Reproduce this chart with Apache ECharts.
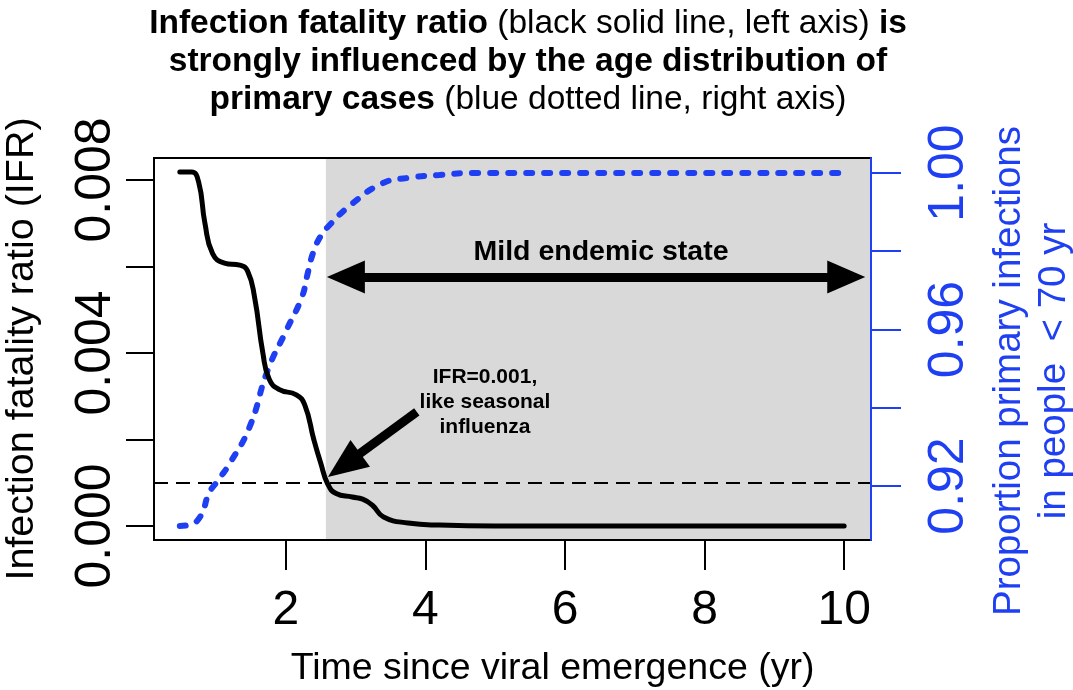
<!DOCTYPE html>
<html>
<head>
<meta charset="utf-8">
<script src="https://cdn.jsdelivr.net/npm/echarts@6/dist/echarts.min.js"></script>
<style>
  html, body { margin: 0; padding: 0; background: #fff; }
  #chart { width: 1073px; height: 690px; }
</style>
</head>
<body>
<div id="chart"></div>
<script>
// IFR curve (black, left axis)
var ifrTime = [0.48, 0.65, 0.75, 0.84, 0.95, 1.12, 1.34, 1.45, 1.55, 1.67, 1.76, 1.9, 2.15, 2.27, 2.40, 2.50, 2.60, 2.72, 2.95, 3.10, 3.24, 3.40, 3.75, 4.2, 5.0, 10.0];
var ifrValues = [0.008185, 0.008185, 0.00795, 0.00700, 0.00630, 0.00608, 0.00603, 0.00590, 0.00530, 0.00400, 0.00340, 0.00316, 0.00303, 0.00280, 0.00200, 0.00145, 0.00097, 0.00075, 0.00067, 0.00062, 0.00048, 0.00021, 0.00007, 0.00002, 0.0, 0.0];

// proportion of primary infections in people < 70 yr (blue, right axis)
var propTime = [0.48, 0.60, 0.77, 0.90, 1.03, 1.20, 1.48, 1.74, 2.01, 2.23, 2.30, 2.39, 2.49, 2.60, 2.96, 3.39, 3.73, 4.2, 4.7, 10.0];
var propValues = [0.9098, 0.9100, 0.9121, 0.9182, 0.9215, 0.9259, 0.9351, 0.9496, 0.9599, 0.9683, 0.9734, 0.9796, 0.9836, 0.9862, 0.9923, 0.9974, 0.9987, 0.9995, 1.0, 1.0];

// ticks and labels
var xTicks = [2, 4, 6, 8, 10];
var leftTicks = [0, 0.002, 0.004, 0.006, 0.008];
var leftLabels = [0, 0.004, 0.008];
var rightTicks = [0.92, 0.94, 0.96, 0.98, 1.0];
var rightLabels = [0.92, 0.96, 1.0];

// axis extents (R style 4% padding)
var xMin = 0.11, xMax = 10.385;
var ifrMin = -0.000324, ifrMax = 0.008509;
var propMin = 0.9062, propMax = 1.00383;

// annotations
var endemicStart = 2.573;
var seasonalIFR = 0.001;

var BLUE = '#1f3ff2';
var FONT = '"Liberation Sans", Arial, Helvetica, sans-serif';

var ifrData = ifrTime.map(function (t, i) { return [t, ifrValues[i]]; });
var propData = propTime.map(function (t, i) { return [t, propValues[i]]; });

var chart = echarts.init(document.getElementById('chart'), null, { renderer: 'canvas' });

var arrowLine = { color: '#000', width: 9, type: 'solid' };

var option = {
    animation: false,
    backgroundColor: '#fff',
    textStyle: { fontFamily: FONT },
    title: {
        left: 523,
        top: 0,
        textAlign: 'center',
        text: '{b|Infection fatality ratio} {n|(black solid line, left axis)} {b|is}\n' +
              '{b|strongly influenced by the age distribution of}\n' +
              '{b|primary cases} {n|(blue dotted line, right axis)}',
        textStyle: {
            fontSize: 33.5,
            rich: {
                b: { fontFamily: FONT, fontWeight: 'bold', fontSize: 33.5, lineHeight: 38, color: '#000' },
                n: { fontFamily: FONT, fontWeight: 'normal', fontSize: 33.5, lineHeight: 38, color: '#000' }
            }
        }
    },
    grid: {
        left: 154, right: 202, top: 158, bottom: 150,
        show: true, borderColor: '#000', borderWidth: 2, z: 10,
        outerBoundsMode: 'none'
    },
    xAxis: {
        type: 'value', min: xMin, max: xMax,
        name: 'Time since viral emergence (yr)',
        nameLocation: 'middle', nameGap: 110,
        nameTextStyle: { fontSize: 37.5, color: '#000', fontFamily: FONT, padding: [0, 0, 0, 80] },
        axisLine: { show: true, onZero: false, lineStyle: { color: '#000', width: 2 } },
        axisTick: { show: true, customValues: xTicks, length: 30, lineStyle: { color: '#000', width: 2 } },
        axisLabel: { customValues: xTicks, fontSize: 48, color: '#000', margin: 47, fontFamily: FONT },
        splitLine: { show: false }
    },
    yAxis: [{
        type: 'value', min: ifrMin, max: ifrMax, position: 'left',
        name: 'Infection fatality ratio (IFR)',
        nameLocation: 'middle', nameRotate: 90, nameGap: 112,
        nameTextStyle: { fontSize: 39.5, color: '#000', fontFamily: FONT },
        axisLine: { show: true, lineStyle: { color: '#000', width: 2 } },
        axisTick: { show: true, customValues: leftTicks, length: 28, lineStyle: { color: '#000', width: 2 } },
        axisLabel: {
            customValues: leftLabels, rotate: 90, fontSize: 50, color: '#000', margin: 33, fontFamily: FONT,
            formatter: function (v) { return v.toFixed(3); }
        },
        splitLine: { show: false }
    }, {
        type: 'value', min: propMin, max: propMax, position: 'right', z: 12,
        name: 'Proportion primary infections\nin people  < 70 yr',
        nameLocation: 'middle', nameRotate: 90, nameGap: 116,
        nameTextStyle: { fontSize: 38.5, color: BLUE, fontFamily: FONT, lineHeight: 45, padding: [0, 44, 0, 0] },
        axisLine: { show: true, lineStyle: { color: BLUE, width: 2 } },
        axisTick: { show: true, customValues: rightTicks, length: 30, lineStyle: { color: BLUE, width: 2 } },
        axisLabel: {
            customValues: rightLabels, rotate: 90, fontSize: 50, color: BLUE, margin: 53, fontFamily: FONT,
            formatter: function (v) { return v.toFixed(2); }
        },
        splitLine: { show: false }
    }],
    series: [{
        // gray "mild endemic" region
        type: 'line', data: [], z: 1, silent: true,
        markArea: {
            silent: true,
            itemStyle: { color: '#d9d9d9' },
            data: [[{ xAxis: endemicStart }, { xAxis: xMax }]]
        }
    }, {
        name: 'IFR', type: 'line', yAxisIndex: 0, data: ifrData, z: 4,
        smooth: 0.5, showSymbol: false,
        lineStyle: { color: '#000', width: 5, cap: 'round', join: 'round' },
        markLine: {
            silent: true, animation: false, symbol: 'none',
            label: { show: false },
            data: [
                [{ coord: [xMin, seasonalIFR], symbol: 'none',
                   lineStyle: { color: '#000', width: 2, type: [14, 8] } },
                 { coord: [xMax, seasonalIFR], symbol: 'none' }],
                [{ coord: [2.86, 0.005757], symbol: 'triangle', symbolSize: [33, 38],
                   lineStyle: arrowLine, itemStyle: { color: '#000' } },
                 { coord: [10.03, 0.005757], symbol: 'triangle', symbolSize: [33, 38] }],
                [{ coord: [3.876, 0.002636], symbol: 'none',
                   lineStyle: arrowLine, itemStyle: { color: '#000' } },
                 { coord: [2.834, 0.001406], symbol: 'triangle', symbolSize: [33, 40] }]
            ]
        },
        markPoint: {
            silent: true, symbol: 'circle', symbolSize: 0,
            data: [{
                coord: [6.516, 0.006335],
                label: { show: true, position: 'inside', formatter: 'Mild endemic state',
                         fontFamily: FONT, fontWeight: 'bold', fontSize: 28.5, color: '#000' }
            }, {
                coord: [4.853, 0.002867],
                label: { show: true, position: 'inside', formatter: 'IFR=0.001,\nlike seasonal\ninfluenza',
                         fontFamily: FONT, fontWeight: 'bold', fontSize: 21, lineHeight: 25, color: '#000', align: 'center' }
            }]
        }
    }, {
        name: 'Proportion', type: 'line', yAxisIndex: 1, data: propData, z: 3,
        smooth: 0.5, showSymbol: false,
        lineStyle: { color: BLUE, width: 6, type: [6, 12], cap: 'round' }
    }]
};

chart.setOption(option);
</script>
</body>
</html>
